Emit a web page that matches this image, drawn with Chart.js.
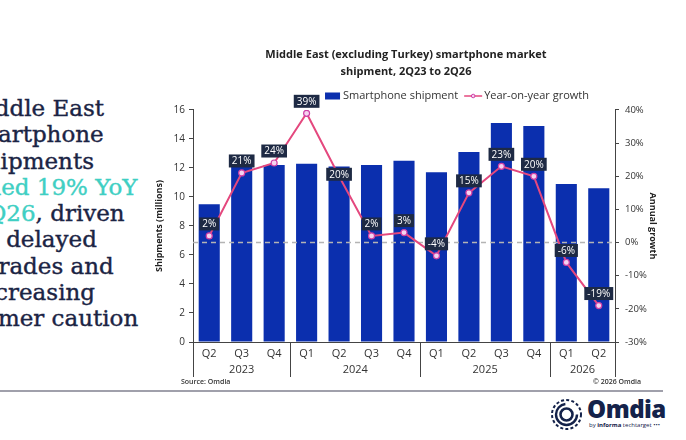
<!DOCTYPE html>
<html>
<head>
<meta charset="utf-8">
<script src="https://cdn.jsdelivr.net/npm/chart.js@4.4.1/dist/chart.umd.min.js"></script>
<style>
  html, body { margin: 0; padding: 0; background: #fff; }
  body { width: 686px; height: 440px; overflow: hidden; position: relative; font-family: "Open Sans", sans-serif; }
  #headline {
    position: absolute; left: -166px; top: 95px; width: 400px;
    text-align: center; font-family: "DejaVu Serif", serif; font-size: 23px;
    line-height: 26.3px; color: #1b2444; -webkit-text-stroke: 0.4px #1b2444;
  }
  #headline .hl { color: #3fcfc3; -webkit-text-stroke: 0.4px #3fcfc3; }
  #wrap { position: absolute; left: 150px; top: 40px; width: 512px; height: 348px; }
  .src { position: absolute; top: 377px; font-size: 7px; color: #333; font-weight: 600; }
  #rule { position: absolute; left: 0; top: 390px; width: 663px; height: 2px; background: #a0a0ab; }
  #logo { position: absolute; left: 550px; top: 398px; width: 120px; height: 34px; color: #14224a; }
  #logo svg { position: absolute; left: 0; top: 0; }
  #logo .name { position: absolute; left: 37px; top: -6px; font-size: 24px; font-weight: 800; letter-spacing: -0.5px; }
  #logo .by { position: absolute; left: 39px; top: 23px; font-size: 6px; white-space: nowrap; }
</style>
</head>
<body>
<div id="headline">Middle East<br>smartphone<br>shipments<br><span class="hl">declined 19% YoY</span><br><span class="hl">in 2Q26</span>, driven<br>by delayed<br>upgrades and<br>increasing<br>consumer caution</div>

<div id="wrap"><canvas id="chart" width="512" height="348"></canvas></div>

<div class="src" style="left:181px;">Source: Omdia</div>
<div class="src" style="left:593px;">© 2026 Omdia</div>
<div id="rule"></div>

<div id="logo">
  <svg width="33" height="33" viewBox="0 0 33 33">
    <circle cx="16.5" cy="16.5" r="14.5" fill="none" stroke="#14224a" stroke-width="2" stroke-dasharray="3 2.2"/>
    <circle cx="16.5" cy="16.5" r="10.5" fill="none" stroke="#14224a" stroke-width="2.4" stroke-dasharray="48 18"/>
    <circle cx="16.5" cy="16.5" r="6" fill="none" stroke="#14224a" stroke-width="2.6"/>
  </svg>
  <div class="name">Omdia</div>
  <div class="by">by <b>informa</b> techtarget •••</div>
</div>

<script>
// Chart data
const quarters = ['Q2', 'Q3', 'Q4', 'Q1', 'Q2', 'Q3', 'Q4', 'Q1', 'Q2', 'Q3', 'Q4', 'Q1', 'Q2'];
const quarterYears = ['2023', '2023', '2023', '2024', '2024', '2024', '2024', '2025', '2025', '2025', '2025', '2026', '2026'];
const shipments = [9.5, 12.9, 12.2, 12.3, 12.1, 12.2, 12.5, 11.7, 13.1, 15.1, 14.9, 10.9, 10.6];
const growth = [2, 21, 24, 39, 20, 2, 3, -4, 15, 23, 20, -6, -19];

const FONT = '"Open Sans", sans-serif';
const AXIS = '#444';

// Dashed 0% line, drawn over the bars but under the growth line
const zeroLine = {
    id: 'zeroLine',
    afterDatasetDraw(chart, args) {
        if (args.meta.type !== 'bar') return;
        const { ctx, chartArea } = chart;
        const y = chart.scales.y1.getPixelForValue(0);
        ctx.save();
        ctx.strokeStyle = '#b4b4b4';
        ctx.lineWidth = 1.5;
        ctx.setLineDash([5, 4]);
        ctx.beginPath();
        ctx.moveTo(chartArea.left, y);
        ctx.lineTo(chartArea.right, y);
        ctx.stroke();
        ctx.restore();
    }
};

// Percent labels in dark boxes above the growth points
const growthLabels = {
    id: 'growthLabels',
    afterDatasetsDraw(chart) {
        const { ctx } = chart;
        const meta = chart.getDatasetMeta(0);
        ctx.save();
        ctx.font = '10px ' + FONT;
        ctx.textAlign = 'center';
        ctx.textBaseline = 'middle';
        meta.data.forEach((pt, i) => {
            const text = growth[i] + '%';
            const w = ctx.measureText(text).width + 6;
            const h = 13;
            // the 2Q24 label sits on the line in the original
            const cy = pt.y - (i === 4 ? 2 : 12);
            ctx.fillStyle = '#1e2a44';
            ctx.fillRect(pt.x - w / 2, cy - h / 2, w, h);
            ctx.fillStyle = '#fff';
            ctx.fillText(text, pt.x, cy + 0.5);
        });
        ctx.restore();
    }
};

// Year row and group separators under the quarter labels
const yearAxis = {
    id: 'yearAxis',
    afterDraw(chart) {
        const { ctx, chartArea } = chart;
        const x = chart.scales.x;
        const half = (x.getPixelForValue(1) - x.getPixelForValue(0)) / 2;
        ctx.save();
        ctx.strokeStyle = AXIS;
        ctx.lineWidth = 1;
        ctx.fillStyle = '#333';
        ctx.font = '11px ' + FONT;
        ctx.textAlign = 'center';
        ctx.textBaseline = 'middle';
        let start = 0;
        const edges = [x.getPixelForValue(0) - half];
        for (let i = 1; i <= quarterYears.length; i++) {
            if (i === quarterYears.length || quarterYears[i] !== quarterYears[start]) {
                const left = x.getPixelForValue(start) - half;
                const right = x.getPixelForValue(i - 1) + half;
                ctx.fillText(quarterYears[start], (left + right) / 2, chartArea.bottom + 28);
                edges.push(right);
                start = i;
            }
        }
        edges.forEach(ex => {
            const px = Math.round(ex) + 0.5;
            ctx.beginPath();
            ctx.moveTo(px, chartArea.bottom);
            ctx.lineTo(px, chartArea.bottom + 35);
            ctx.stroke();
        });
        ctx.restore();
    }
};

// Legend drawn from the datasets, placed right of centre like the original
const topLegend = {
    id: 'topLegend',
    afterDraw(chart) {
        const { ctx } = chart;
        const bar = chart.data.datasets[1];
        const line = chart.data.datasets[0];
        ctx.save();
        ctx.font = '11px ' + FONT;
        ctx.textBaseline = 'middle';
        const w1 = ctx.measureText(bar.label).width;
        const w2 = ctx.measureText(line.label).width;
        const total = 15 + 3 + w1 + 6 + 18 + 2 + w2;
        let cx = 307 - total / 2;
        const cy = 56;
        ctx.fillStyle = bar.backgroundColor;
        ctx.fillRect(cx, cy - 3.5, 15, 7);
        cx += 18;
        ctx.fillStyle = '#333';
        ctx.fillText(bar.label, cx, cy);
        cx += w1 + 6;
        ctx.strokeStyle = line.borderColor;
        ctx.lineWidth = 1.5;
        ctx.beginPath();
        ctx.moveTo(cx, cy);
        ctx.lineTo(cx + 18, cy);
        ctx.stroke();
        ctx.fillStyle = line.pointBackgroundColor;
        ctx.strokeStyle = line.pointBorderColor;
        ctx.lineWidth = 1;
        ctx.beginPath();
        ctx.arc(cx + 9, cy, 1.8, 0, Math.PI * 2);
        ctx.fill();
        ctx.stroke();
        cx += 20;
        ctx.fillStyle = '#333';
        ctx.fillText(line.label, cx, cy);
        ctx.restore();
    }
};

new Chart(document.getElementById('chart'), {
    data: {
        labels: quarters,
        datasets: [
            {
                type: 'line',
                label: 'Year-on-year growth',
                data: growth,
                yAxisID: 'y1',
                order: 0,
                borderColor: '#e4487e',
                borderWidth: 2,
                pointRadius: 3,
                pointBackgroundColor: '#f5d3f0',
                pointBorderColor: '#cf3fa6',
                pointBorderWidth: 1.2,
                tension: 0
            },
            {
                type: 'bar',
                label: 'Smartphone shipment',
                data: shipments,
                yAxisID: 'y',
                order: 1,
                backgroundColor: '#0b2fae',
                barPercentage: 0.65,
                categoryPercentage: 1
            }
        ]
    },
    options: {
        responsive: false,
        animation: false,
        layout: { padding: 0 },
        plugins: {
            legend: { display: false },
            tooltip: { enabled: false },
            title: {
                display: true,
                text: ['Middle East (excluding Turkey) smartphone market', 'shipment, 2Q23 to 2Q26'],
                color: '#222',
                font: { family: FONT, size: 11, weight: 'bold', lineHeight: 1.545 },
                padding: { top: 6.5, bottom: 29.5 }
            }
        },
        scales: {
            x: {
                grid: { display: false, drawTicks: false },
                border: { color: AXIS },
                ticks: { color: '#333', font: { family: FONT, size: 11 }, padding: 5, maxRotation: 0, autoSkip: false },
                afterFit: s => { s.height = 46; }
            },
            y: {
                position: 'left',
                min: 0,
                max: 16,
                ticks: { stepSize: 2, color: '#333', font: { family: FONT, size: 10 }, padding: 4 },
                grid: { drawOnChartArea: false, tickLength: 4, color: AXIS },
                border: { color: AXIS },
                title: { display: true, text: 'Shipments (millions)', color: '#222', font: { family: FONT, size: 9, weight: 'bold' } },
                afterFit: s => { s.width = 43; }
            },
            y1: {
                position: 'right',
                min: -30,
                max: 40,
                ticks: { stepSize: 10, color: '#333', font: { family: FONT, size: 9.5 }, padding: 6, callback: v => v + '%' },
                grid: { drawOnChartArea: false, tickLength: 4, color: AXIS },
                border: { color: AXIS },
                title: { display: true, text: 'Annual growth', color: '#222', font: { family: FONT, size: 9, weight: 'bold' } },
                afterFit: s => { s.width = 47; }
            }
        }
    },
    plugins: [zeroLine, growthLabels, yearAxis, topLegend]
});
</script>
</body>
</html>
